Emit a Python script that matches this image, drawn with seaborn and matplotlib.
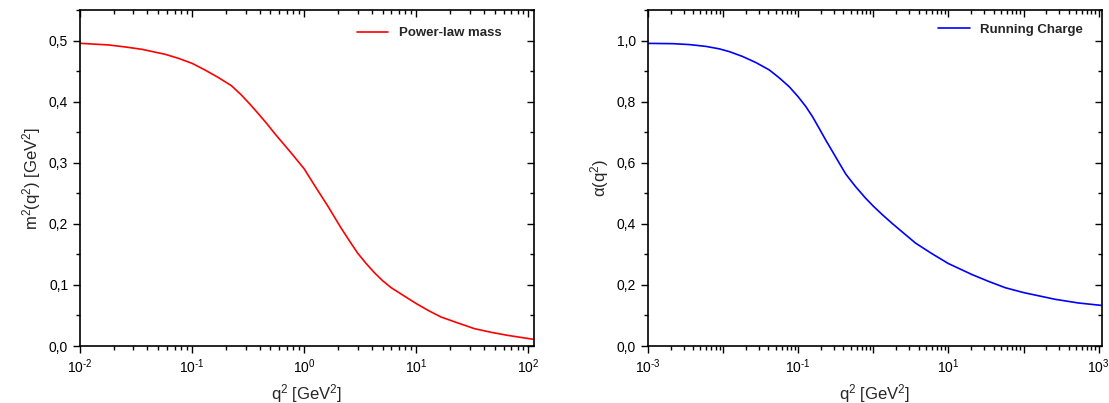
import numpy as np
import pandas as pd
import matplotlib
matplotlib.use("Agg")
import matplotlib.pyplot as plt
import matplotlib.ticker as mticker
import seaborn as sns

# values
mass_q2 = [0.01, 0.018, 0.0254, 0.0356, 0.0575, 0.0755, 0.1, 0.13, 0.17, 0.225, 0.275,
           0.328, 0.387, 0.462, 0.545, 0.646, 0.766, 1.0, 1.236, 1.625, 2.135, 2.535,
           3.0, 3.57, 4.23, 5.0, 5.95, 7.87, 10.0, 12.7, 16.6, 23.5, 33.0, 46.6, 65.0, 111.0]
mass_m2 = [0.4956, 0.4929, 0.4896, 0.4858, 0.4776, 0.471, 0.4628, 0.452, 0.440, 0.426, 0.411,
           0.396, 0.381, 0.3645, 0.348, 0.332, 0.316, 0.290, 0.263, 0.229, 0.193, 0.172,
           0.152, 0.135, 0.120, 0.107, 0.0956, 0.0814, 0.0694, 0.0585, 0.0475, 0.0377, 0.0284,
           0.0224, 0.0175, 0.0109]

charge_q2 = [0.001, 0.00215, 0.00357, 0.00594, 0.0089, 0.0121, 0.0182, 0.0274, 0.0412, 0.056,
             0.076, 0.1, 0.1265, 0.155, 0.19, 0.233, 0.286, 0.35, 0.43, 0.58, 0.79, 1.0,
             1.32, 1.79, 3.65, 6.07, 10.0, 20.6, 34.0, 57.0, 100.0, 263.0, 535.0, 1084.0]
charge_alpha = [0.991, 0.990, 0.987, 0.981, 0.973, 0.964, 0.948, 0.928, 0.904, 0.878,
                0.849, 0.816, 0.784, 0.751, 0.713, 0.674, 0.637, 0.600, 0.563, 0.522, 0.484, 0.458,
                0.430, 0.401, 0.337, 0.302, 0.270, 0.234, 0.212, 0.191, 0.175, 0.153, 0.141, 0.133]

sns.set_theme(style="ticks")
plt.rcParams['font.family'] = ['Liberation Sans', 'DejaVu Sans']
plt.rcParams['mathtext.fontset'] = 'custom'
plt.rcParams['mathtext.rm'] = 'Liberation Sans'
plt.rcParams['mathtext.it'] = 'Liberation Sans'
plt.rcParams['mathtext.default'] = 'regular'
plt.rcParams['axes.unicode_minus'] = False
plt.rcParams['xtick.direction'] = 'out'
plt.rcParams['ytick.direction'] = 'out'


def decade(v, p):
    e = round(np.log10(v))
    return "$10^{%d}$" % e if e >= 0 else "$10^{\\text{-%d}}$" % -e


def style_axis(ax, ylim, ymajor, yminor, xlim):
    ax.set_xscale("log")
    ax.set_xlim(*xlim)
    ax.set_ylim(*ylim)
    ax.yaxis.set_major_locator(mticker.MultipleLocator(ymajor))
    ax.yaxis.set_minor_locator(mticker.MultipleLocator(yminor))
    ax.yaxis.set_major_formatter(
        mticker.FuncFormatter(lambda v, p: f"{v:.1f}".replace(".", ",")))
    ax.xaxis.set_major_locator(mticker.LogLocator(base=10, numticks=20))
    ax.xaxis.set_minor_locator(mticker.LogLocator(base=10, subs=np.arange(2, 10), numticks=50))
    ax.xaxis.set_minor_formatter(mticker.NullFormatter())
    ax.tick_params(which="both", top=True, right=True, labelsize=10, colors="black")
    ax.tick_params(which="major", length=5, width=1)
    ax.tick_params(which="minor", length=3, width=1)
    for side in ["left", "right", "top", "bottom"]:
        ax.spines[side].set_linewidth(1.2)
        ax.spines[side].set_color("black")
    ax.set_xlabel("q$^2$ [GeV$^2$]", fontsize=12)


fig = plt.figure(figsize=(11.09, 4.03), dpi=100)
ax1 = fig.add_axes([0.0721, 0.1414, 0.4094, 0.8336])
ax2 = fig.add_axes([0.5843, 0.1414, 0.4094, 0.8336])

df1 = pd.DataFrame({"q2": mass_q2, "m2": mass_m2})
sns.lineplot(data=df1, x="q2", y="m2", ax=ax1, color="red", linewidth=1.2,
             label="Power-law mass", estimator=None, sort=False)
style_axis(ax1, (0, 0.55), 0.1, 0.05, (0.01, 112))
ax1.xaxis.set_major_formatter(mticker.FuncFormatter(decade))
ax1.set_ylabel("m$^2$(q$^2$) [GeV$^2$]", fontsize=12)

df2 = pd.DataFrame({"q2": charge_q2, "alpha": charge_alpha})
sns.lineplot(data=df2, x="q2", y="alpha", ax=ax2, color="blue", linewidth=1.2,
             label="Running Charge", estimator=None, sort=False)
style_axis(ax2, (0, 1.1), 0.2, 0.1, (0.001, 1110))
odd = lambda v, p: decade(v, p) if round(np.log10(v)) % 2 else ""
ax2.xaxis.set_major_formatter(mticker.FuncFormatter(odd))
ax2.set_ylabel("α(q$^2$)", fontsize=12)

ax1.legend(loc="upper right", bbox_to_anchor=(0.955, 0.985), frameon=False,
           fontsize=9.5, handlelength=2.4)
ax2.legend(loc="upper right", bbox_to_anchor=(0.985, 0.995), frameon=False,
           fontsize=9.5, handlelength=2.4)
for ax in (ax1, ax2):
    for txt in ax.get_legend().get_texts():
        txt.set_fontweight("bold")

# top/right ticks point inward, Origin-style
fig.canvas.draw()
for ax in (ax1, ax2):
    for t in ax.xaxis.get_major_ticks() + ax.xaxis.get_minor_ticks():
        t.tick2line.set_marker(3)
    for t in ax.yaxis.get_major_ticks() + ax.yaxis.get_minor_ticks():
        t.tick2line.set_marker(0)

fig.savefig("out.png", dpi=100)
